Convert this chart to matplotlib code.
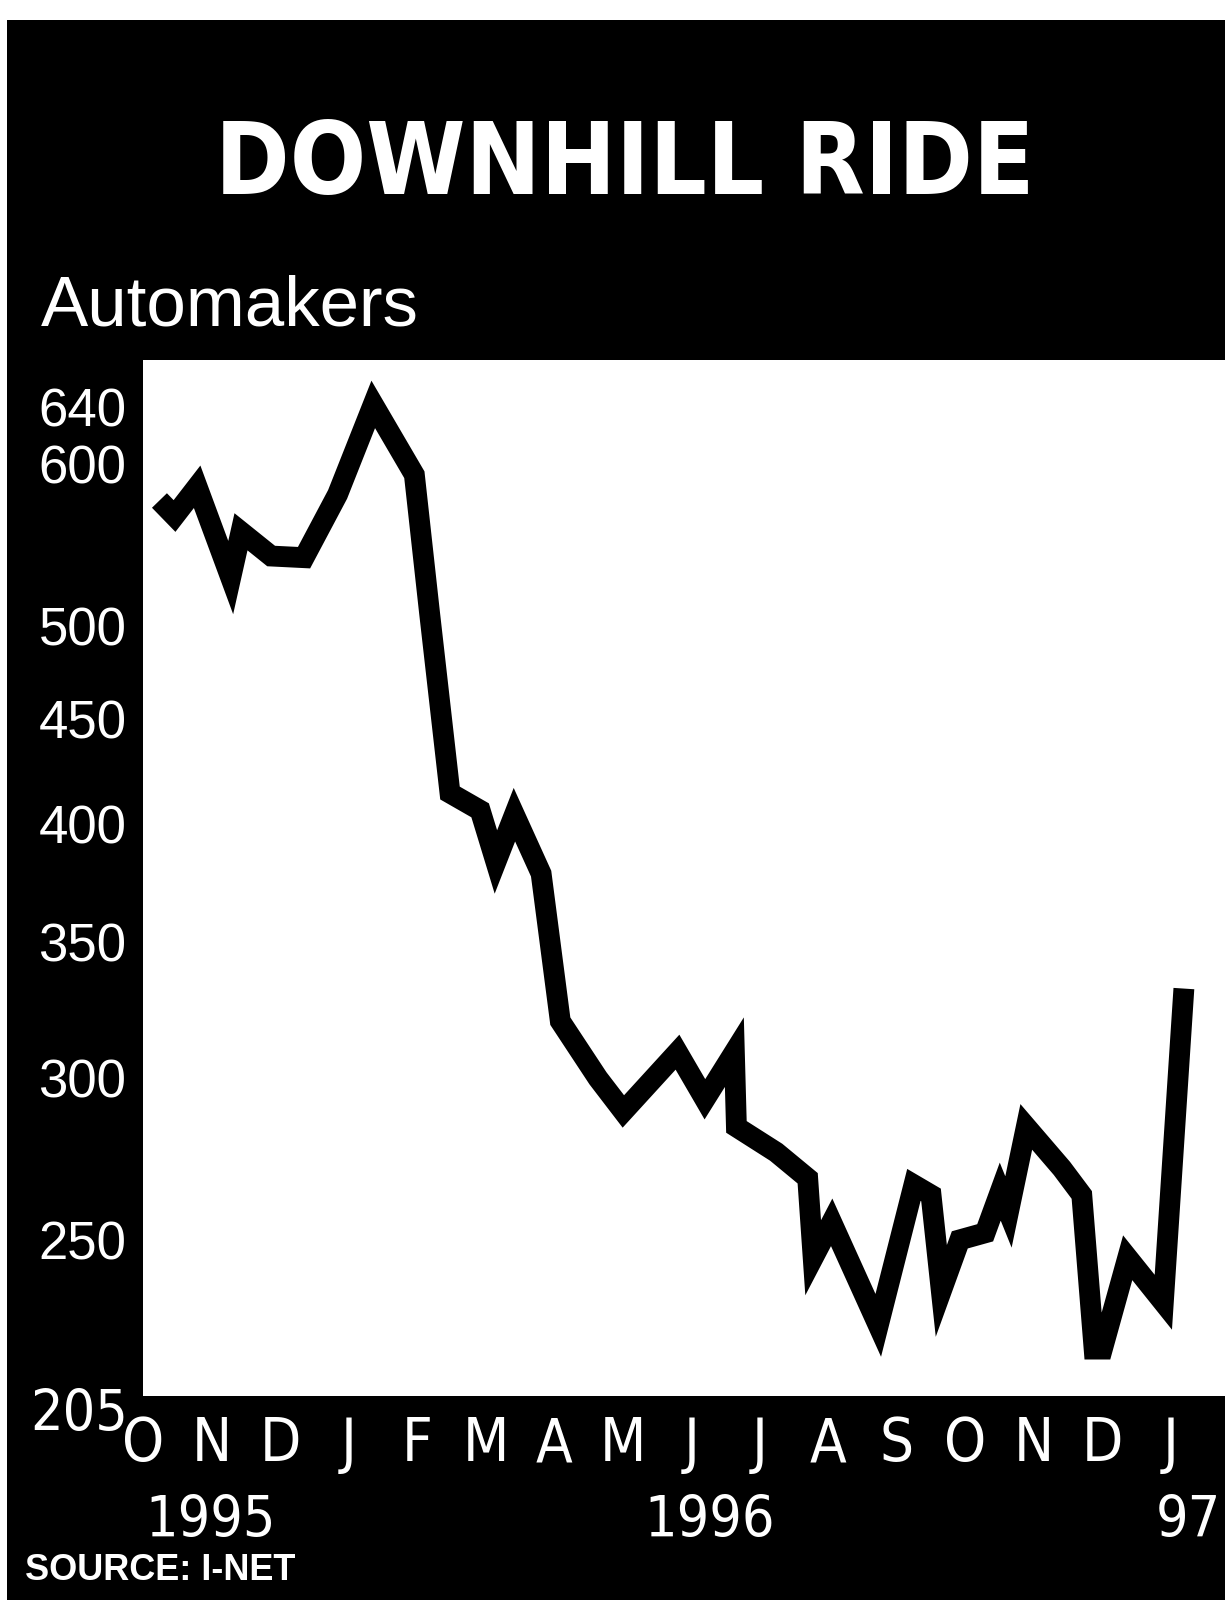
import matplotlib.pyplot as plt
from matplotlib.patches import Rectangle
from matplotlib.ticker import FixedLocator, NullLocator

# Automaker stock index, Oct 1995 - Jan 1997
# x = months since the start of October 1995
month_pos = [0.24, 0.46, 0.79, 1.28, 1.43, 1.87, 2.35, 2.84, 3.36, 3.96,
             4.18, 4.48, 4.92, 5.15, 5.42, 5.81, 6.09, 6.64, 7.01, 7.80,
             8.20, 8.63, 8.66, 9.24, 9.70, 9.78, 10.05, 10.73, 11.25,
             11.50, 11.65, 11.92, 12.29, 12.51, 12.63, 12.89, 13.41, 13.70, 13.88,
             14.00, 14.37, 14.89, 15.19]
index_value = [576, 566, 585, 528, 556, 541, 540, 580, 642, 593,
               508, 414, 406, 383, 404, 378, 320, 300, 289, 309,
               293, 309, 284, 276, 268, 245, 255, 227, 266,
               263, 236, 250, 252, 264, 258, 284, 271, 263, 221,
               221, 245, 233, 332]

month_labels = ['O', 'N', 'D', 'J', 'F', 'M', 'A', 'M', 'J', 'J', 'A', 'S', 'O', 'N', 'D', 'J']
year_labels = ['1995', '1996', '97']
year_pos = [0.98, 8.27, 15.26]
y_ticks = [250, 300, 350, 400, 450, 500, 600, 640]

PLAIN = ['Liberation Sans', 'DejaVu Sans']
COND = dict(family='DejaVu Sans', fontstretch='condensed')

W, H = 1225, 1600
fig = plt.figure(figsize=(W / 100, H / 100), dpi=100, facecolor='white')

# black panel behind everything
fig.add_artist(Rectangle((7 / W, 0), 1 - 7 / W, 1 - 20 / H, transform=fig.transFigure,
                         facecolor='black', edgecolor='none', zorder=0))

fig.text(625 / W, 1 - 194 / H, 'DOWNHILL RIDE', ha='center', va='baseline', color='white',
         fontsize=72, fontweight='bold', **COND)
fig.text(41 / W, 1 - 325 / H, 'Automakers', ha='left', va='baseline', color='white',
         fontsize=51, family=PLAIN)
fig.text(25 / W, 1 - 1580 / H, 'SOURCE: I-NET', ha='left', va='baseline', color='white',
         fontsize=26, fontweight='bold', family=PLAIN)

ax = fig.add_axes([143 / W, 1 - 1396 / H, (W - 143) / W, (1396 - 360) / H])
ax.set_facecolor('white')
ax.plot(month_pos, index_value, color='black', linewidth=15,
        solid_joinstyle='miter', solid_capstyle='butt')

ax.set_yscale('log')
ax.set_ylim(209.6, 675)
ax.set_xlim(0.015, 15.79)

ax.yaxis.set_major_locator(FixedLocator(y_ticks))
ax.yaxis.set_minor_locator(NullLocator())
ax.set_yticklabels([str(v) for v in y_ticks], color='white', fontsize=38, family=PLAIN)
ax.tick_params(axis='y', length=0, pad=12)

ax.set_xticks(range(len(month_labels)))
ax.set_xticklabels(month_labels, color='white', fontsize=43, **COND)
ax.tick_params(axis='x', length=0, pad=14)

# bottom of the scale sits just under the plot edge
ax.text(-0.0135, 205, '205', transform=ax.get_yaxis_transform(), ha='right', va='center',
        color='white', fontsize=41, clip_on=False, **COND)

for label, x in zip(year_labels, year_pos):
    ax.text(x, -0.1207, label, transform=ax.get_xaxis_transform(), ha='center', va='center',
            color='white', fontsize=41, clip_on=False, **COND)

for side in ax.spines.values():
    side.set_visible(False)

fig.savefig('out.png', dpi=100, facecolor='white')
